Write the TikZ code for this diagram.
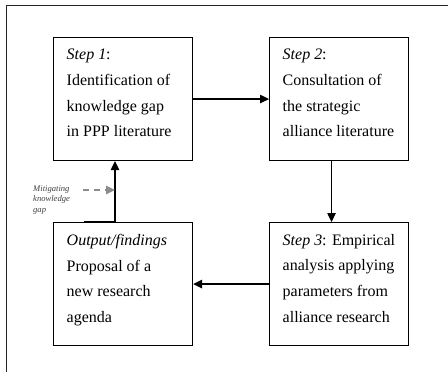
\documentclass[tikz,border=0pt]{standalone}
\usepackage{fontspec}
\setmainfont{Liberation Serif}
\usetikzlibrary{arrows.meta}
\begin{document}
\begin{tikzpicture}[x=1pt,y=-1pt,
  stepbox/.style={draw, line width=1.1pt, minimum width=139pt, minimum height=123pt,
    inner sep=0pt, anchor=north west},
  steptext/.style={inner sep=0pt, align=left, anchor=north west,
    font=\fontsize{16}{25.8}\selectfont,
    execute at begin node={\rule{0pt}{17pt}}},
  flow/.style={line width=1.2pt, -{Triangle[length=9pt,width=8.5pt]}},
  gapflow/.style={line width=1.2pt, draw=black!45, dash pattern=on 6pt off 5pt,
    -{Triangle[length=9pt,width=8.5pt,fill=black!45]}},
  frameline/.style={line width=0.9pt, draw=black!85},
  note/.style={inner sep=0pt, anchor=north west, align=left, text=black!75,
    font=\itshape\fontsize{8.6}{10.5}\selectfont}]
\useasboundingbox (0,0) rectangle (448,372);
% outer frame (only top and left edges visible)
\coordinate (fa) at (6.5,372);
\coordinate (fb) at (6.5,5.5);
\coordinate (fc) at (448,5.5);
\draw[frameline] (fa) -- (fb) -- (fc);
% boxes
\node[stepbox] (b1) at (53,37) {};
\node[stepbox] (b2) at (269,37) {};
\node[stepbox] (b3) at (269,222) {};
\node[stepbox] (b4) at (53,222) {};
% box texts
\node[steptext] (t1) at ([shift={(13.5,11.8)}]b1.north west) {\textit{Step 1}:\\Identification of\\knowledge gap\\in PPP literature};
\node[steptext] (t2) at ([shift={(13.5,11.8)}]b2.north west) {\textit{Step 2}:\\Consultation of\\the strategic\\alliance literature};
\node[steptext] (t3) at ([shift={(13.5,11.8)}]b3.north west) {\textit{Step 3}: Empirical\\analysis applying\\parameters from\\alliance research};
\node[steptext] (t4) at ([shift={(13.5,11.8)}]b4.north west) {\textit{Output/findings}\\Proposal of a\\new research\\agenda};
% connectors
\draw[flow] (b1.east) -- (b2.west);
\draw[flow] ([xshift=-7.5pt]b2.south) -- ([xshift=-7.5pt]b3.north);
\draw[flow] (b3.west) -- (b4.east);
\coordinate (up) at (115,221.5);
\coordinate (ul) at (84,221.5);
\draw[line width=1.2pt] (ul) -- (up);
\draw[flow] (up) -- (b1.south -| up);
% mitigating knowledge gap
\node[note] (mk) at (33,185.2) {Mitigating\\knowledge\\gap};
\coordinate (ds) at (83,190);
\draw[gapflow] (ds) -- (ds -| up);
\end{tikzpicture}
\end{document}
